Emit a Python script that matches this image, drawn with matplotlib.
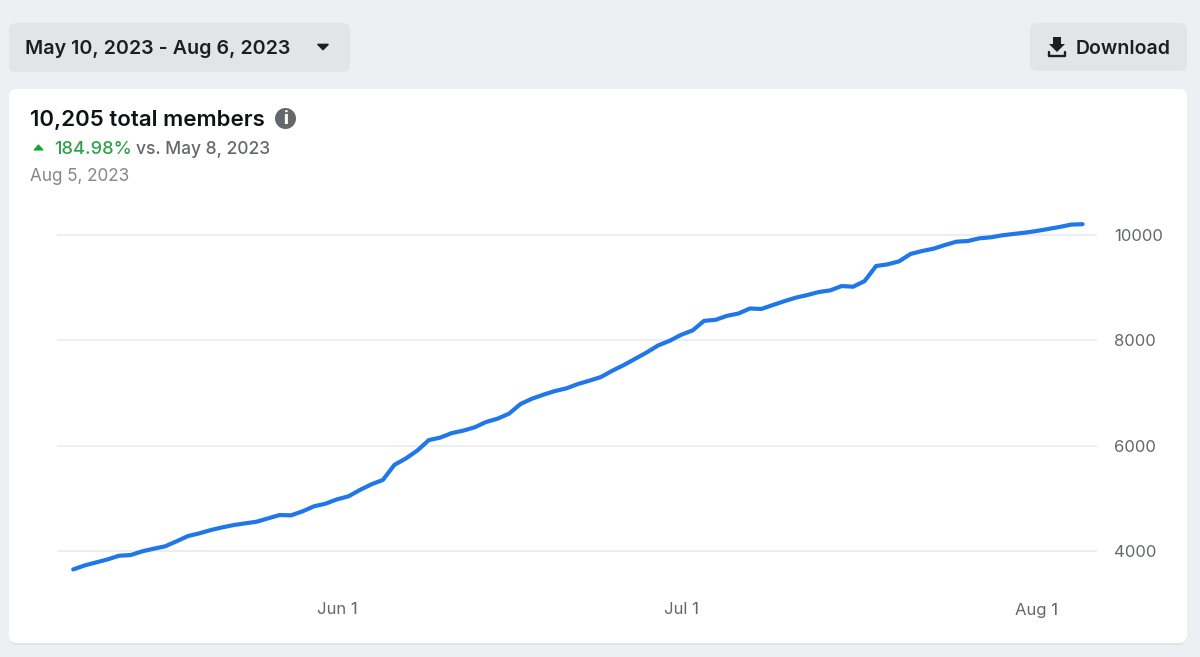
import matplotlib
matplotlib.use("Agg")
import matplotlib.pyplot as plt
import matplotlib.dates as mdates
from matplotlib.patches import FancyBboxPatch, Circle, Polygon, Rectangle
import pandas as pd

plt.rcParams['font.family'] = ['Inter', 'DejaVu Sans']

start_date = "2023-05-09"
members = [3658, 3734, 3791, 3848, 3918, 3930, 4000, 4050, 4095, 4190,
           4291, 4342, 4405, 4456, 4500, 4532, 4563, 4627, 4690, 4684,
           4760, 4855, 4905, 4987, 5044, 5165, 5272, 5355, 5640, 5762,
           5912, 6110, 6158, 6243, 6290, 6353, 6454, 6517, 6612, 6795,
           6896, 6972, 7041, 7092, 7174, 7237, 7306, 7426, 7533, 7653,
           7773, 7906, 7994, 8107, 8190, 8372, 8391, 8467, 8511, 8606,
           8598, 8672, 8745, 8812, 8861, 8918, 8950, 9032, 9019, 9127,
           9412, 9443, 9500, 9640, 9696, 9740, 9810, 9873, 9886, 9937,
           9956, 9994, 10020, 10045, 10076, 10114, 10152, 10197, 10205]
dates = pd.date_range(start_date, periods=len(members), freq="D")
y_ticks = [4000, 6000, 8000, 10000]
x_ticks = ["2023-06-01", "2023-07-01", "2023-08-01"]
x_tick_labels = ["Jun 1", "Jul 1", "Aug 1"]

W, H = 1200, 657
BG = "#edf0f3"; BTN = "#e2e5e8"; DARK = "#1c1e21"; GREY = "#65676b"; GREEN = "#31a24c"
fig = plt.figure(figsize=(W / 100, H / 100), dpi=100, facecolor=BG)

# page chrome drawn in pixel coordinates
bg = fig.add_axes([0, 0, 1, 1]); bg.set_xlim(0, W); bg.set_ylim(H, 0); bg.axis("off")
def box(x0, y0, x1, y1, r, fc, **kw):
    bg.add_patch(FancyBboxPatch((x0 + r, y0 + r), x1 - x0 - 2 * r, y1 - y0 - 2 * r,
                                boxstyle=f"round,pad={r},rounding_size={r}", fc=fc, ec="none", **kw))
box(9, 23, 350, 72, 7, BTN)
box(1030, 23, 1187, 71, 7, BTN)
box(9.5, 90, 1187, 645, 8, "#e0e3e6")
box(9, 89, 1187, 643, 8, "white")

bg.text(25, 49.5, "May 10, 2023 - Aug 6, 2023", fontsize=14.15, color=DARK, va="center", fontweight=600)
bg.add_patch(Polygon([(318, 44.5), (328, 44.5), (323, 49.5)], closed=True, fc=DARK, ec=DARK, lw=1.2, joinstyle="round"))
bg.text(1076, 49.5, "Download", fontsize=14.05, color=DARK, va="center", fontweight=600)
bg.add_patch(Polygon([(1053, 37), (1061, 37), (1061, 44), (1065, 44), (1057, 52), (1049, 44), (1053, 44)],
                     closed=True, fc=DARK, ec="none"))
bg.plot([1049, 1049, 1065, 1065], [52, 56, 56, 52], color=DARK, lw=1.7, solid_capstyle="round")

bg.text(30, 120.5, "10,205 total members", fontsize=16.05, color="#111214", va="center", fontweight=600)
bg.add_patch(Circle((285.5, 118.5), 10.5, fc=GREY, ec="none"))
bg.text(285.5, 119.5, "i", fontsize=12.5, color="white", va="center", ha="center", fontweight=800)
bg.add_patch(Polygon([(34, 150), (38.5, 145), (43, 150)], closed=True, fc="#13a337", ec="#13a337", lw=0.8))
bg.text(54.5, 149, "184.98%", fontsize=13.2, color=GREEN, va="center", fontweight=500)
bg.text(136.5, 149, "vs. May 8, 2023", fontsize=12.55, color=GREY, va="center", fontweight=500)
bg.text(30, 176.5, "Aug 5, 2023", fontsize=12.3, color="#85878b", va="center")

# chart axes: 10000 at y=235, 4000 at y=551.4; Jun 1 at x=337, 11.47 px per day
ax_l, ax_r, ax_t, ax_b = 57, 1097, 195, 590
ax = fig.add_axes([ax_l / W, 1 - ax_b / H, (ax_r - ax_l) / W, (ax_b - ax_t) / H])
ax.patch.set_alpha(0)
per_val = (551.4 - 235) / 6000
ax.set_ylim(4000 - (ax_b - 551.4) / per_val, 10000 + (235 - ax_t) / per_val)
jun1 = mdates.date2num(pd.Timestamp("2023-06-01"))
ax.set_xlim(jun1 + (ax_l - 337) / 11.47, jun1 + (ax_r - 337) / 11.47)
ax.plot(dates, members, color="#1f77e8", lw=3.0, solid_capstyle="round", solid_joinstyle="round", zorder=3)
ax.set_yticks(y_ticks)
ax.set_xticks(pd.to_datetime(x_ticks))
ax.set_xticklabels(x_tick_labels)
ax.yaxis.tick_right()
ax.grid(axis="y", color="#e8eaed", lw=1.1)
ax.grid(axis="x", visible=False)
ax.set_axisbelow(True)
for s in ax.spines.values():
    s.set_visible(False)
ax.tick_params(axis="both", length=0, labelsize=12.0, labelcolor=GREY)
ax.tick_params(axis="y", pad=12.5)
ax.tick_params(axis="x", pad=9)
fig.savefig("out.png", dpi=100, facecolor=BG)
